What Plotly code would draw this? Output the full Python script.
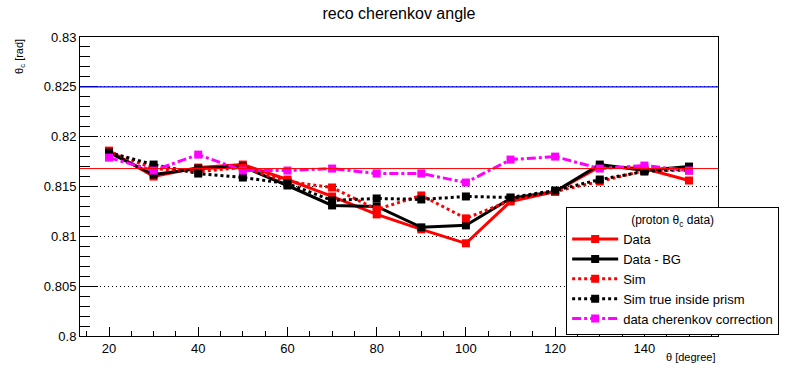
import plotly.graph_objects as go

theta = [20, 30, 40, 50, 60, 70, 80, 90, 100, 110, 120, 130, 140, 150]
data = [0.8186, 0.8160, 0.8169, 0.8172, 0.8157, 0.8140, 0.8122, 0.8107, 0.8093, 0.8135, 0.8145, 0.8170, 0.8168, 0.8156]
data_bg = [0.8184, 0.8162, 0.8168, 0.8170, 0.8151, 0.8131, 0.8130, 0.8109, 0.8111, 0.8138, 0.8145, 0.8172, 0.8166, 0.8170]
sim = [0.8185, 0.8168, 0.8165, 0.8169, 0.8155, 0.8149, 0.8127, 0.8141, 0.8118, 0.8136, 0.8145, 0.8155, 0.8166, 0.8166]
sim_true = [0.8184, 0.8172, 0.8163, 0.8159, 0.8153, 0.8136, 0.8138, 0.8137, 0.8140, 0.8139, 0.8146, 0.8157, 0.8165, 0.8168]
corr = [0.8179, 0.8166, 0.8182, 0.8166, 0.8166, 0.8168, 0.8163, 0.8163, 0.8154, 0.8177, 0.8180, 0.8168, 0.8171, 0.8166]

mean_line = 0.8168
expected_line = 0.825

y_ticks = [0.8, 0.805, 0.81, 0.815, 0.82, 0.825, 0.83]
y_tick_labels = ["0.8", "0.805", "0.81", "0.815", "0.82", "0.825", "0.83"]
x_ticks = [20, 40, 60, 80, 100, 120, 140]

FONT = "Liberation Sans, Arial, Helvetica, sans-serif"

series = [
    ("Data", data, "#ff0000", "solid"),
    ("Data - BG", data_bg, "#000000", "solid"),
    ("Sim", sim, "#ff0000", "dot"),
    ("Sim true inside prism", sim_true, "#000000", "dot"),
    ("data cherenkov correction", corr, "#ff00ff", "dashdot"),
]

fig = go.Figure()
for name, vals, col, dash in series:
    fig.add_trace(go.Scatter(
        x=theta, y=vals, name=name, mode="lines+markers",
        line=dict(color=col, width=3, dash=dash),
        marker=dict(symbol="square", size=8, color=col),
    ))

fig.add_shape(type="line", xref="paper", x0=0, x1=1, yref="y",
              y0=expected_line, y1=expected_line,
              line=dict(color="#0000ff", width=1.2), layer="above")
fig.add_shape(type="line", xref="paper", x0=0, x1=1, yref="y",
              y0=mean_line, y1=mean_line,
              line=dict(color="#ff0000", width=1), layer="above")

fig.update_layout(
    width=798, height=374,
    margin=dict(l=80, r=80, t=37, b=38),
    paper_bgcolor="white", plot_bgcolor="white",
    font=dict(family=FONT, size=13, color="black"),
    title=dict(text="reco cherenkov angle", x=0.5, xanchor="center",
               y=0.963, yanchor="middle", font=dict(size=16)),
    showlegend=True,
    legend=dict(
        x=0.762, y=0.43, xanchor="left", yanchor="top",
        bgcolor="white", bordercolor="black", borderwidth=1,
        font=dict(size=13), tracegroupgap=0, itemwidth=46,
        title=dict(text="(proton θ<sub>c</sub> data)", side="top center",
                   font=dict(size=12)),
    ),
    xaxis=dict(
        range=[13.5, 156.5], tickvals=x_ticks, showgrid=False, zeroline=False,
        showline=True, linecolor="black", linewidth=1, mirror=True,
        ticks="inside", ticklen=9, tickcolor="black",
        tickfont=dict(size=13),
        minor=dict(ticks="inside", ticklen=5, dtick=5, tick0=0,
                   tickcolor="black", showgrid=False),
    ),
    yaxis=dict(
        range=[0.8, 0.83], tickvals=y_ticks, ticktext=y_tick_labels,
        showgrid=True, gridcolor="black", gridwidth=1, griddash="1px,3px",
        zeroline=False,
        showline=True, linecolor="black", linewidth=1, mirror=True,
        ticks="inside", ticklen=18, tickcolor="black",
        tickfont=dict(size=13),
        minor=dict(ticks="inside", ticklen=10, dtick=0.001, tick0=0.8,
                   tickcolor="black", showgrid=False),
    ),
    annotations=[
        dict(text="θ<sub>c</sub> [rad]", xref="paper", yref="paper",
             x=-0.095, y=1.0, xanchor="center", yanchor="top",
             textangle=-90, showarrow=False, font=dict(size=11)),
        dict(text="θ [degree]", xref="paper", yref="paper",
             x=1.0, y=-0.045, xanchor="right", yanchor="top",
             showarrow=False, font=dict(size=11)),
    ],
)

fig.write_html(
    "out.html",
    config={"displayModeBar": False},
    post_script="document.body.style.margin='0';document.body.style.padding='0';",
)
